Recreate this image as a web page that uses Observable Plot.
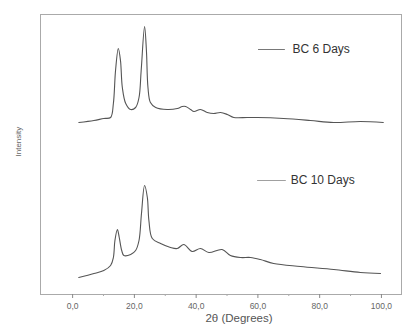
<!DOCTYPE html>
<html>
<head>
<meta charset="utf-8">
<script src="https://cdn.jsdelivr.net/npm/d3@7"></script>
<script src="https://cdn.jsdelivr.net/npm/@observablehq/plot@0.6"></script>
<style>
  body { margin: 0; background: #fff; }
  #chart svg { display: block; }
</style>
</head>
<body>
<div id="chart"></div>
<script>
// XRD patterns of bacterial cellulose (arbitrary intensity units)
const angle6 = [2.0, 6.9, 10.1, 12.3, 13.2, 13.9, 14.8, 15.5, 16.1, 17.2, 18.8, 20.4, 21.5, 22.2, 23.3, 23.9, 24.4, 25.2, 26.9, 30.6, 33.9, 35.5, 36.6, 38.2, 39.3, 41.4, 43.6, 45.7, 47.9, 50.1, 52.2, 56.5, 59.8, 68.3, 77.0, 84.5, 93.2, 100.6];
const intensity6 = [172, 174, 176, 177, 191, 224, 246, 234, 207, 191, 185, 187, 197, 224, 268, 244, 207, 192, 187, 185, 186, 188, 188, 185, 183, 185, 182, 181, 182, 180, 177, 177, 177, 176, 174, 172, 173, 172];

const angle10 = [2.0, 6.9, 10.1, 12.3, 13.2, 13.7, 14.5, 15.1, 15.9, 16.6, 18.8, 20.4, 21.5, 22.3, 23.3, 24.2, 24.7, 25.8, 28.5, 31.7, 33.9, 36.0, 38.7, 41.4, 44.1, 48.4, 51.1, 54.4, 57.6, 60.8, 65.1, 73.8, 84.6, 93.2, 99.7];
const intensity10 = [17, 21, 24, 29, 37, 54, 65, 57, 44, 39, 40, 44, 54, 81, 109, 97, 74, 56, 51, 47, 46, 50, 43, 46, 42, 45, 39, 37, 37, 35, 31, 28, 25, 22, 21];

const seriesNames = ["BC 6 Days", "BC 10 Days"];
const xTicks = [0, 20, 40, 60, 80, 100];
const xMinorTicks = [10, 30, 50, 70, 90];
const xLabel = "2θ (Degrees)";
const yLabel = "Intensity";

const pattern6 = angle6.map((a, i) => ({angle: a, intensity: intensity6[i]}));
const pattern10 = angle10.map((a, i) => ({angle: a, intensity: intensity10[i]}));

const lineColor = "#555";
const font = "Liberation Sans, Arial, sans-serif";

const chart = Plot.plot({
  width: 406,
  height: 334,
  marginLeft: 40,
  marginRight: 5,
  marginTop: 14,
  marginBottom: 40,
  style: {fontFamily: font, background: "#fff"},
  x: {domain: [-10.4, 106.5]},
  y: {domain: [0, 280], axis: null},
  marks: [
    Plot.frame({stroke: "#aaa"}),
    Plot.axisX({
      ticks: xTicks,
      tickSize: 4,
      tickPadding: 4,
      tickFormat: d => d.toFixed(1).replace(".", ","),
      fontSize: 8.5,
      color: "#666",
      stroke: "#888",
      label: null
    }),
    Plot.axisX({ticks: xMinorTicks, tickSize: 2, tickFormat: () => "", stroke: "#aaa", label: null}),
    Plot.text([xLabel], {frameAnchor: "bottom", dx: 18, dy: 27, fontSize: 11.5, fill: "#555"}),
    Plot.text([yLabel], {frameAnchor: "left", dx: -22, dy: 2, rotate: -90, fontSize: 8, fill: "#666"}),
    Plot.line(pattern6, {x: "angle", y: "intensity", stroke: lineColor, strokeWidth: 1.1, curve: "catmull-rom"}),
    Plot.line(pattern10, {x: "angle", y: "intensity", stroke: lineColor, strokeWidth: 1.1, curve: "catmull-rom"}),
    // legend entries
    Plot.ruleY([245], {x1: 60.2, x2: 68.9, stroke: lineColor, strokeWidth: 0.8}),
    Plot.text([seriesNames[0]], {x: 71.2, y: 245, textAnchor: "start", fontSize: 12, fill: "#333"}),
    Plot.ruleY([114], {x1: 59.9, x2: 69.2, stroke: "#888", strokeWidth: 0.8}),
    Plot.text([seriesNames[1]], {x: 70.6, y: 114, textAnchor: "start", fontSize: 12, fill: "#333"})
  ]
});
document.getElementById("chart").append(chart);
</script>
</body>
</html>
